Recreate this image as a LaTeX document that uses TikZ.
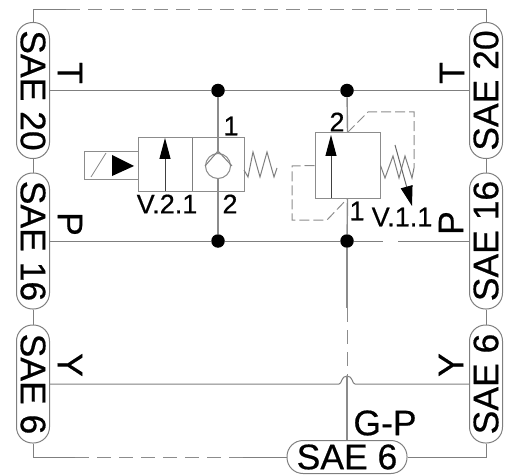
\documentclass[tikz,border=0pt]{standalone}
\usepackage{fontspec}
\usepackage{graphicx}
\setmainfont[FakeBold=0.5]{Liberation Sans}
\usetikzlibrary{arrows.meta}
\definecolor{ln}{HTML}{7F7F7F}
\definecolor{lnl}{HTML}{8C8C8C}
\newcommand{\bigt}{\fontsize{35.5}{35.5}\selectfont}
\newcommand{\smt}{\fontsize{27}{27}\selectfont}
\tikzset{
  wire/.style={draw=ln,line width=1pt},
  thick wire/.style={draw=lnl,line width=1.4pt},
  dwire/.style={draw=lnl,line width=1pt,dash pattern=on 14pt off 8pt},
  dsmall/.style={draw=lnl,line width=1pt,dash pattern=on 10pt off 4pt},
  vport/.style={draw=ln,line width=1pt,rounded corners=16pt,minimum width=33pt,inner sep=0pt,text=black},
  hport/.style={draw=ln,line width=1pt,rounded corners=16pt,minimum width=120pt,minimum height=33pt,inner sep=0pt,text=black},
  box/.style={draw=lnl,line width=1pt,inner sep=0pt},
  dot/.style={circle,fill=black,inner sep=0pt,minimum size=13.5pt},
  big/.style={inner sep=0pt,text=black,font=\bigt},
  small/.style={inner sep=0pt,text=black,font=\smt},
  flow/.style={draw=black!75,line width=1pt,-{Triangle[length=21pt,width=11pt,color=black]}},
}
\newcommand{\dn}[1]{\rotatebox[origin=c]{-90}{\bigt #1}}
\newcommand{\up}[1]{\rotatebox[origin=c]{90}{\bigt #1}}
\begin{document}
\begin{tikzpicture}[x=1pt,y=-1pt]
\useasboundingbox (0,0) rectangle (514,476);
% ports
\node[vport,minimum height=136pt] (l20) at (33,90.5) {\dn{SAE 20}};
\node[vport,minimum height=136pt] (l16) at (33,241) {\dn{SAE 16}};
\node[vport,minimum height=118pt] (l6) at (33,384) {\dn{SAE 6}};
\node[vport,minimum height=136pt] (r20) at (486,90.5) {\up{SAE 20}};
\node[vport,minimum height=136pt] (r16) at (486,241) {\up{SAE 16}};
\node[vport,minimum height=118pt] (r6) at (486,384) {\up{SAE 6}};
\node[hport] (b6) at (347,457) {\bigt SAE 6};
% junctions
\node[dot] (t1) at (218,90.5) {};
\node[dot] (t2) at (347,90.5) {};
\node[dot] (p1) at (218,241) {};
\node[dot] (p2) at (347,241) {};
% frame
\coordinate (tl) at (33,10);
\coordinate (tr) at (486,10);
\coordinate (tla) at (66,10);
\coordinate (tra) at (457,10);
\coordinate (bl) at (33,457);
\coordinate (bla) at (75,457);
\coordinate (blb) at (243,457);
\coordinate (br) at (486,457);
\draw[wire] (l20.north) -- (tl) -- (tla);
\draw[dwire] (tla) -- (tra);
\draw[wire] (tra) -- (tr) -- (r20.north);
\draw[wire] (l20.south) -- (l16.north);
\draw[wire] (l16.south) -- (l6.north);
\draw[wire] (r20.south) -- (r16.north);
\draw[wire] (r16.south) -- (r6.north);
\draw[wire] (l6.south) -- (bl) -- (bla);
\draw[dwire] (bla) -- (blb);
\draw[wire] (blb) -- (b6.west);
\draw[wire] (b6.east) -- (br) -- (r6.south);
% main lines
\coordinate (pa) at (383,241);
\coordinate (pb) at (398,241);
\coordinate (ya) at (339,384);
\coordinate (yb) at (355,384);
\coordinate (ytop) at (347,376);
\coordinate (da) at (347,308);
\draw[wire] (l20.east) -- (t1) -- (t2) -- (r20.west);
\draw[wire] (l16.east) -- (p1) -- (p2) -- (pa);
\draw[wire] (pb) -- (r16.west);
\draw[wire] (l6.east) -- (ya) .. controls (342,384) and (341,376) .. (ytop) .. controls (353,376) and (352,384) .. (yb) -- (r6.west);
% right valve
\node[box,minimum width=65pt,minimum height=65pt] (v1) at (347.5,165.5) {};
\draw[thick wire] (t2) -- (v1.north);
\draw[thick wire] (v1.south) -- (p2);
\draw[thick wire] (p2) -- (da);
\draw[dwire] (da) -- (ytop);
\draw[thick wire] (ytop) -- (b6.north);
\coordinate (f1a) at (331,198);
\coordinate (f1b) at (331,135);
\draw[flow] (f1a) -- (f1b);
\coordinate (d1) at (368,112);
\coordinate (d2) at (414,112);
\coordinate (d3) at (414,168);
\draw[dsmall] (v1.north) -- (d1) -- (d2) -- (d3);
\coordinate (d4) at (292,166);
\coordinate (d5) at (292,220);
\coordinate (d6) at (327,220);
\draw[dsmall] (v1.west) -- (d4) -- (d5) -- (d6) -- (v1.south);
\draw[wire] (v1.east) -- (385,178) -- (393,156) -- (399,178) -- (405,156) -- (412,178) -- (d3);
\coordinate (ad1) at (395,145);
\coordinate (ad2) at (412,206);
\draw[draw=black!60,line width=1pt,-{Triangle[length=20pt,width=12pt,color=black]}] (ad1) -- (ad2);
% left valve
\node[box,minimum width=106pt,minimum height=53pt] (v2) at (191,164.5) {};
\node[box,minimum width=54pt,minimum height=27pt] (sol) at (111,165.5) {};
\coordinate (div1) at (192,138);
\coordinate (div2) at (192,191);
\draw[wire] (div1) -- (div2);
\coordinate (f2a) at (165,191);
\coordinate (f2b) at (165,138);
\draw[flow] (f2a) -- (f2b);
\node[circle,draw=lnl,line width=1pt,fill=white,inner sep=0pt,minimum size=25pt] (chk) at (218,166) {};
\coordinate (s1) at (205,166);
\coordinate (s2) at (218,151);
\coordinate (s3) at (232,166);
\draw[wire] (s1) -- (s2) -- (s3);
\draw[thick wire] (t1) -- (chk.north);
\draw[thick wire] (chk.south) -- (p1);
\draw[wire] (244,170) -- (248,177) -- (253,152) -- (260,177) -- (267,152) -- (274,177) -- (277,168);
\coordinate (sl1) at (91,177);
\coordinate (sl2) at (106,153);
\draw[draw=lnl,line width=0.8pt] (sl1) -- (sl2);
\fill[black] (112,155) -- (134,166) -- (112,176) -- cycle;
% labels
\node[big,rotate=-90] (lt) at (70,73) {T};
\node[big,rotate=-90] (lp) at (70,224) {P};
\node[big,rotate=-90] (ly) at (70,365) {Y};
\node[big,rotate=90] (rt) at (452,73) {T};
\node[big,rotate=90] (rp) at (451,223) {P};
\node[big,rotate=90] (ry) at (451,365) {Y};
\node[big] (gp) at (385,423) {G-P};
\node[small] (n1) at (231,126) {1};
\node[small] (n2) at (230,204) {2};
\node[small] (v21) at (167,204) {V.2.1};
\node[small] (m2) at (337,122) {2};
\node[small] (m1) at (357,211) {1};
\node[small] (v11) at (402,217) {V.1.1};
\end{tikzpicture}
\end{document}
